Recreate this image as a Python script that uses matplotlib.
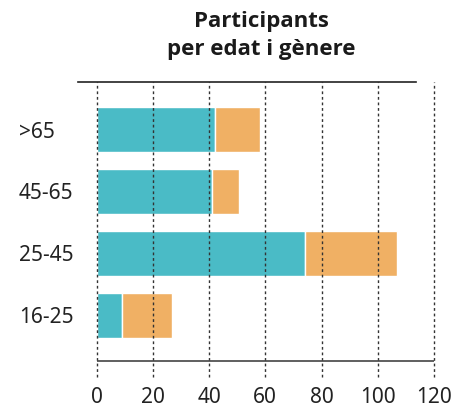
import matplotlib
matplotlib.use("Agg")
import matplotlib.pyplot as plt

plt.rcParams['font.family'] = ['Noto Sans', 'DejaVu Sans']

# dades
grups = ['16-25', '25-45', '45-65', '>65']
serie_a = [9, 74, 41, 42]      # blau
serie_b = [18, 33, 9.5, 16]    # taronja
xticks = [0, 20, 40, 60, 80, 100, 120]
titol = ['Participants', 'per edat i gènere']

teal = '#4abbc6'
orange = '#f0b064'

fig = plt.figure(figsize=(4.63, 4.09), dpi=100)
ax = fig.add_axes([96.5 / 463, 32 / 409, 337.5 / 463, 295 / 409])

pos = list(range(len(grups)))
ax.barh(pos, serie_a, height=0.73, color=teal, edgecolor='white', linewidth=1, zorder=2)
ax.barh(pos, serie_b, left=serie_a, height=0.73, color=orange, edgecolor='white', linewidth=1, zorder=2)

ax.set_xlim(0, 120)
ax.set_ylim(-1.0, 3.77)
ax.set_xticks(xticks)
ax.set_xticklabels([str(t) for t in xticks])
ax.set_yticks(pos)
ax.set_yticklabels(grups)

for t in xticks:
    ax.axvline(t, color='#333333', lw=1, ls=(0, (2, 2)), zorder=3, clip_on=False)

for s in ax.spines.values():
    s.set_visible(False)

# linia superior i inferior
ax.axhline(3.77, xmin=-0.055, xmax=0.947, color='#222222', lw=1.2, clip_on=False, zorder=4)
ax.axhline(-1.0 + 16 / 61.77, xmin=0, xmax=1, color='#444444', lw=1.2, zorder=4)

ax.tick_params(axis='both', length=0, labelsize=15, colors='#222222')
ax.tick_params(axis='x', pad=7)
ax.tick_params(axis='y', pad=56)
for lab in ax.get_yticklabels():
    lab.set_horizontalalignment('left')

fig.text(261 / 463, 1 - 27 / 409, titol[0], ha='center', va='baseline',
         fontsize=16, fontweight='bold', family=['Open Sans', 'DejaVu Sans'], color='#1a1a1a')
fig.text(261 / 463, 1 - 55 / 409, titol[1], ha='center', va='baseline',
         fontsize=16, fontweight='bold', family=['Open Sans', 'DejaVu Sans'], color='#1a1a1a')

fig.savefig('out.png', dpi=100)
